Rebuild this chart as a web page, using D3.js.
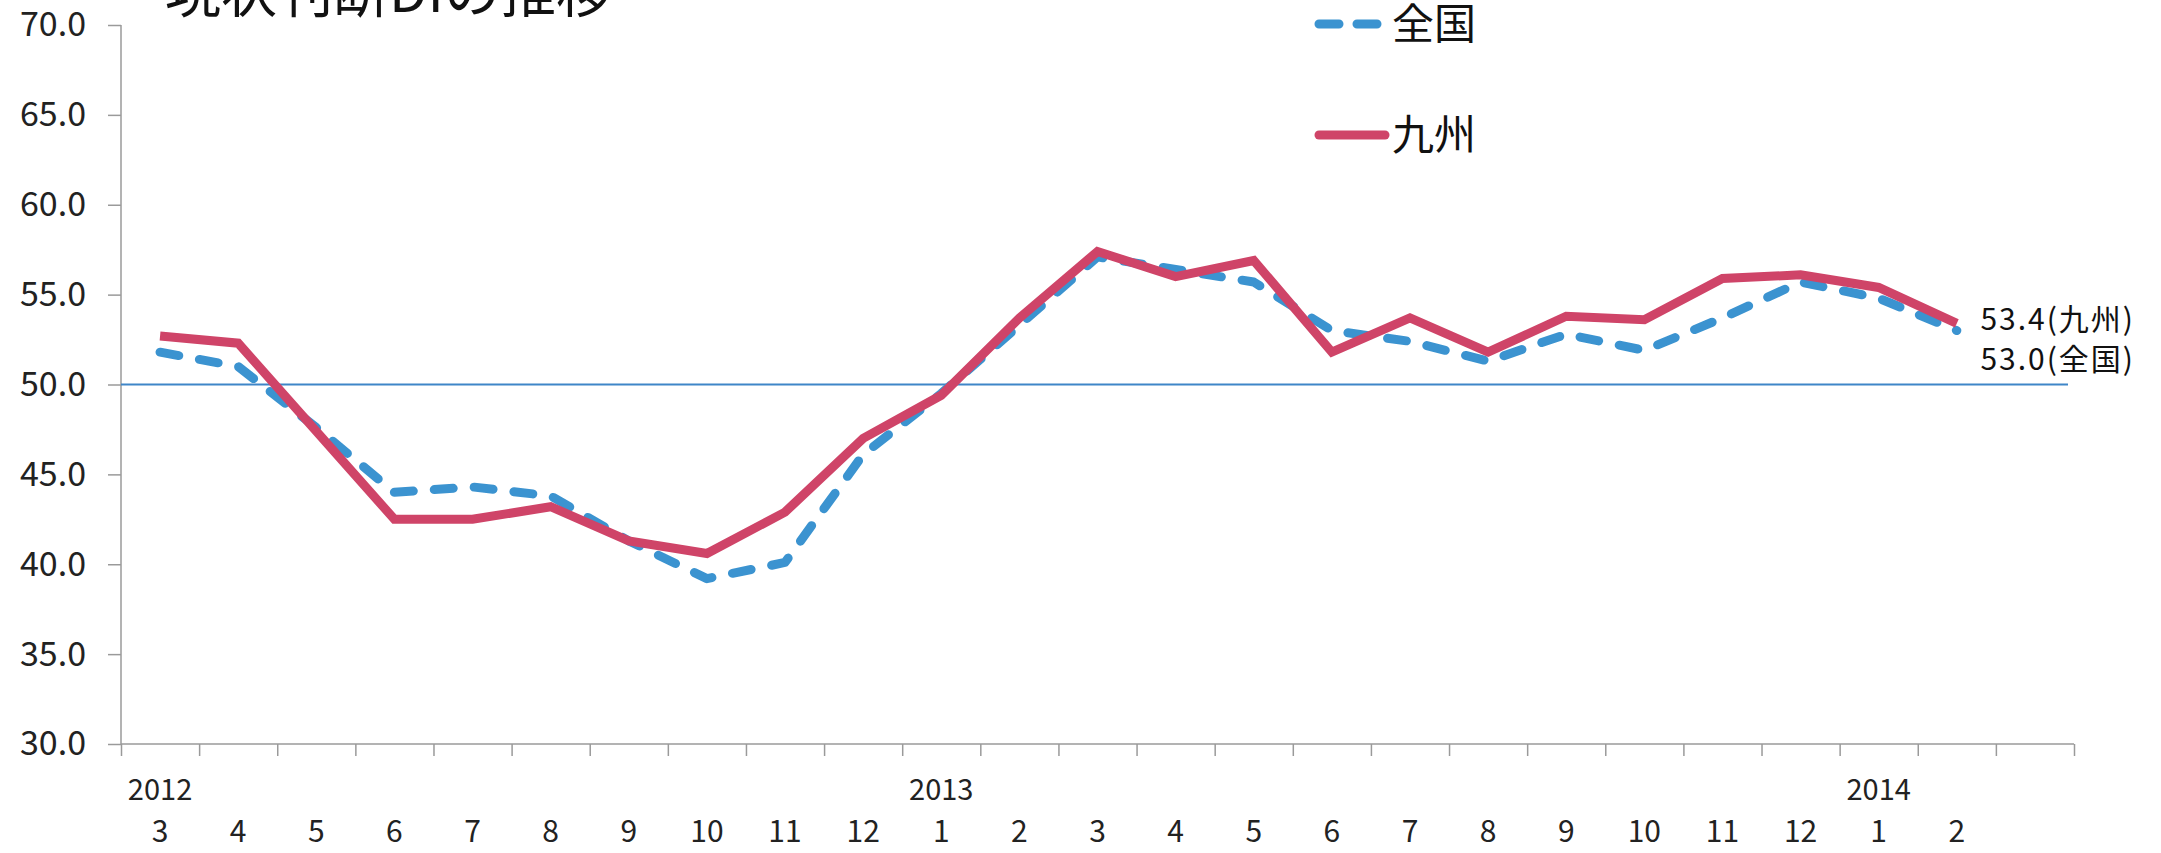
<!DOCTYPE html>
<html>
<head>
<meta charset="utf-8">
<script src="https://cdn.jsdelivr.net/npm/d3@7"></script>
<style>
  body { margin: 0; background: #fff; }
  text { font-family: "Noto Sans CJK JP", "Noto Sans", sans-serif; fill: #111; }
</style>
</head>
<body>
<script>
// months on the x axis, last slot is an empty category
const months = ["3","4","5","6","7","8","9","10","11","12","1","2","3","4","5","6","7","8","9","10","11","12","1","2",""];
const years = [{i: 0, label: "2012"}, {i: 10, label: "2013"}, {i: 22, label: "2014"}];
const kyushu = [52.7,52.3,47.4,42.5,42.5,43.2,41.3,40.6,42.9,47.0,49.4,53.7,57.4,56.0,56.9,51.8,53.7,51.8,53.8,53.6,55.9,56.1,55.4,53.4];
const zenkoku = [51.8,51.0,47.6,44.0,44.3,43.8,41.3,39.2,40.1,46.1,49.5,53.3,57.1,56.4,55.7,53.0,52.4,51.3,52.8,51.9,53.7,55.7,54.8,53.0];
const yTicks = [30,35,40,45,50,55,60,65,70];

const width = 2161, height = 853;
const plotLeft = 121, plotRight = 2074, plotTop = 25, plotBottom = 744;

const svg = d3.select("body").append("svg")
    .attr("width", width)
    .attr("height", height);

const idx = d3.range(months.length);
const x = d3.scaleBand().domain(idx).range([plotLeft, plotRight]).padding(0);
const xb = d3.scaleLinear().domain([0, months.length]).range([plotLeft, plotRight]);
const y = d3.scaleLinear().domain([30, 70]).range([plotBottom, plotTop]);

// title, cut at the top edge like the scan
svg.append("text")
    .attr("x", 165)
    .attr("y", 12)
    .style("font-size", "56px")
    .text("現状判断DIの推移");

// y axis
const yAxis = svg.append("g")
    .attr("transform", `translate(${plotLeft},0)`)
    .call(d3.axisLeft(y).tickValues(yTicks).tickFormat(d3.format(".1f")).tickSize(13).tickPadding(22));
yAxis.selectAll("line, path").attr("stroke", "#9a9a9a").attr("stroke-width", 1.5);
yAxis.select(".domain").attr("d", `M0,${plotTop}V${plotBottom}`);
yAxis.selectAll("text").style("font-size", "34px").style("fill", "#222");

// x axis with ticks on the category boundaries
const xAxis = svg.append("g")
    .attr("transform", `translate(0,${plotBottom})`)
    .call(d3.axisBottom(xb).tickValues(d3.range(months.length + 1)).tickFormat("").tickSize(12));
xAxis.selectAll("line, path").attr("stroke", "#9a9a9a").attr("stroke-width", 1.5);
xAxis.select(".domain").attr("d", `M${plotLeft},0H${plotRight}`);

const monthAxis = svg.append("g")
    .attr("transform", `translate(0,${plotBottom})`)
    .call(d3.axisBottom(x).tickFormat(i => months[i]).tickSize(0).tickPadding(77));
monthAxis.select(".domain").remove();
monthAxis.selectAll("text").style("font-size", "30px").style("fill", "#222");

svg.append("g").selectAll("text")
    .data(years)
    .join("text")
    .attr("x", d => x(d.i) + x.bandwidth() / 2)
    .attr("y", 800)
    .attr("text-anchor", "middle")
    .style("font-size", "29px")
    .style("fill", "#222")
    .text(d => d.label);

// 50 reference line
svg.append("line")
    .attr("x1", plotLeft).attr("x2", 2068)
    .attr("y1", y(50)).attr("y2", y(50))
    .attr("stroke", "#3f86c8")
    .attr("stroke-width", 2);

const line = d3.line()
    .x((d, i) => x(i) + x.bandwidth() / 2)
    .y(d => y(d));

svg.append("path")
    .datum(zenkoku)
    .attr("d", line)
    .attr("fill", "none")
    .attr("stroke", "#3b93d0")
    .attr("stroke-width", 9)
    .attr("stroke-linecap", "round")
    .attr("stroke-linejoin", "round")
    .attr("stroke-dasharray", "19,21");

svg.append("path")
    .datum(kyushu)
    .attr("d", line)
    .attr("fill", "none")
    .attr("stroke", "#cf4468")
    .attr("stroke-width", 9)
    .attr("stroke-linejoin", "miter");

// legend
const legend = svg.append("g");
legend.append("line")
    .attr("x1", 1319).attr("x2", 1380).attr("y1", 24).attr("y2", 24)
    .attr("stroke", "#3b93d0").attr("stroke-width", 9)
    .attr("stroke-linecap", "round").attr("stroke-dasharray", "20,18");
legend.append("text")
    .attr("x", 1392).attr("y", 39)
    .style("font-size", "42px")
    .text("全国");
legend.append("line")
    .attr("x1", 1319).attr("x2", 1385).attr("y1", 135).attr("y2", 135)
    .attr("stroke", "#cf4468").attr("stroke-width", 9)
    .attr("stroke-linecap", "round");
legend.append("text")
    .attr("x", 1392).attr("y", 150)
    .style("font-size", "42px")
    .text("九州");

// end labels
svg.append("text")
    .attr("x", 2135).attr("y", 330)
    .attr("text-anchor", "end")
    .style("font-size", "30px")
    .style("letter-spacing", "2px")
    .text(`${kyushu[kyushu.length - 1].toFixed(1)}(九州)`);
svg.append("text")
    .attr("x", 2135).attr("y", 370)
    .attr("text-anchor", "end")
    .style("font-size", "30px")
    .style("letter-spacing", "2px")
    .text(`${zenkoku[zenkoku.length - 1].toFixed(1)}(全国)`);
</script>
</body>
</html>
